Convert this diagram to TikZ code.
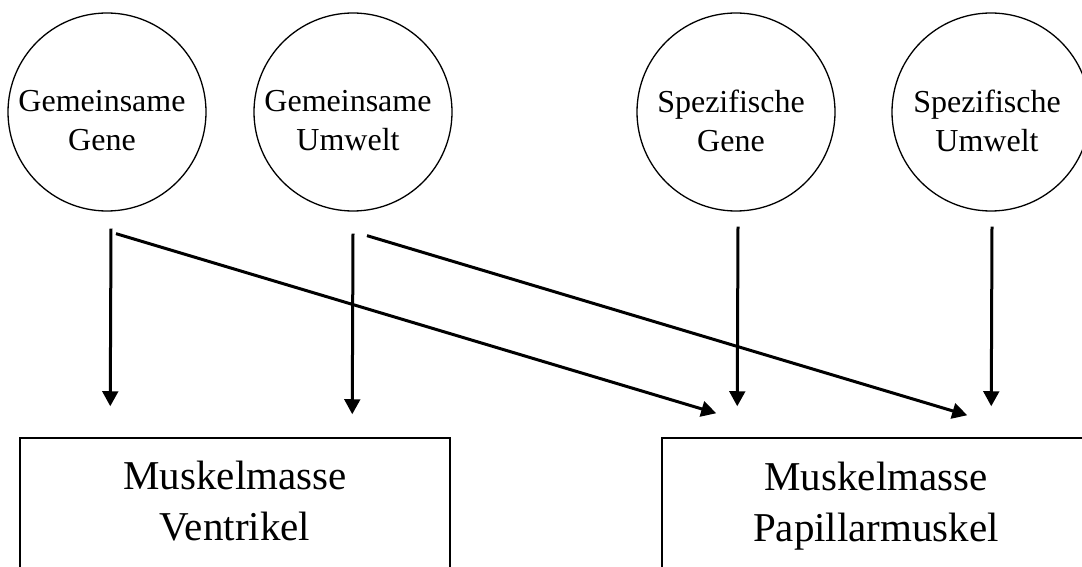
\documentclass[tikz,border=0pt]{standalone}
\usepackage{fontspec}
\setmainfont{Liberation Serif}
\usetikzlibrary{arrows.meta,positioning,calc}
\tikzset{
	faktor/.style={draw,circle,line width=0.65pt,minimum size=99pt,inner sep=0pt},
	faktortext/.style={align=center,inner sep=0pt,font=\fontsize{16pt}{19.5pt}\selectfont},
	muskel/.style={draw,rectangle,line width=0.75pt,minimum width=215pt,minimum height=80pt,inner sep=0pt},
	muskeltext/.style={align=center,inner sep=0pt,font=\fontsize{20.5pt}{25.5pt}\selectfont},
	pfeil/.style={line width=1.5pt,-{Triangle[length=7.5pt,width=7.8pt]}}
}
\begin{document}
\begin{tikzpicture}[x=0.5pt,y=-0.5pt]
		\useasboundingbox (0,0) rectangle (1082,567);
		\clip (0,0) rectangle (1082,567);
		\node[faktor] (gg) at (107,112) {};
		\node[faktor] (gu) at (353,112) {};
		\node[faktor] (sg) at (736,112) {};
		\node[faktor] (su) at (991,112) {};
		\node[faktortext] (ggt) at (102,121) {Gemeinsame\\Gene};
		\node[faktortext] (gut) at (348,121) {Gemeinsame\\Umwelt};
		\node[faktortext] (sgt) at (731,121) {Spezifische\\Gene};
		\node[faktortext] (sut) at (987,121) {Spezifische\\Umwelt};
		\node[muskel] (vent) at (235,518) {};
		\node[muskel] (papi) at (877,518) {};
		\node[muskeltext] (ventt) at (235,501.5) {Muskelmasse\\Ventrikel};
		\node[muskeltext] (papit) at (876,506) {Muskelmasse\\Papillarmuskel};
		\draw[pfeil] ($(gg.south)+(4,17)$) -- ($(vent.north west)+(91,-31)$);
		\draw[pfeil] ($(gu.south)+(0,22)$) -- ($(vent.north west)+(333,-23)$);
		\draw[pfeil] ($(sg.south)+(2,15)$) -- ($(papi.north west)+(76,-31)$);
		\draw[pfeil] ($(su.south)+(1,15)$) -- ($(papi.north west)+(330,-31)$);
		\draw[pfeil] ($(gg.south)+(9,22)$) -- ($(papi.north west)+(55,-24)$);
		\draw[pfeil] ($(gu.south)+(14,24)$) -- ($(papi.north west)+(306,-22)$);
	\end{tikzpicture}
\end{document}
